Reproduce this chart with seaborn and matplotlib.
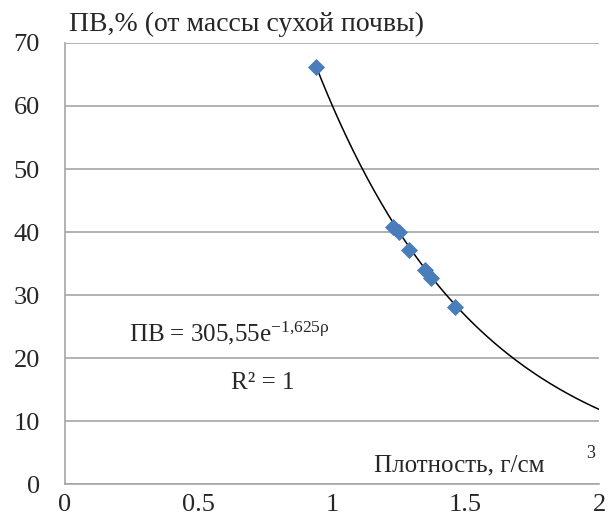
import matplotlib
matplotlib.use('Agg')
import matplotlib.pyplot as plt
import numpy as np
import pandas as pd
import seaborn as sns

# Data
density = [0.94, 1.23, 1.25, 1.29, 1.35, 1.37, 1.46]
pv = [66.2, 40.8, 40.0, 37.1, 34.0, 32.7, 28.1]

# trend line coefficients as printed on the chart
coef_a = 305.55
coef_b = -1.625
trend_start, trend_end = 0.94, 2.0

df = pd.DataFrame({'density': density, 'pv': pv})
trend_x = np.linspace(trend_start, trend_end, 200)
trend = pd.DataFrame({'x': trend_x, 'y': coef_a * np.exp(coef_b * trend_x)})

sns.set_style('white')
plt.rcParams['font.family'] = ['Liberation Serif', 'DejaVu Serif']
plt.rcParams['mathtext.fontset'] = 'custom'
plt.rcParams['mathtext.rm'] = 'Liberation Serif'
plt.rcParams['mathtext.it'] = 'Liberation Serif'

fig = plt.figure(figsize=(6.1, 5.18), dpi=100)
ax = fig.add_axes([0.1066, 0.0656, 0.8754, 0.8514])

sns.lineplot(data=trend, x='x', y='y', ax=ax, color='black', linewidth=1.1, zorder=2)
sns.scatterplot(data=df, x='density', y='pv', ax=ax, marker='D', s=65,
                color='#4a7ebb', edgecolor='#4a7ebb', zorder=3)

ax.set_xlim(0, 2)
ax.set_ylim(0, 70)
ax.set_xticks([0, 0.5, 1, 1.5, 2])
ax.set_xticklabels(['0', '0.5', '1', '1.5', '2'])
ax.set_yticks(range(0, 71, 10))
ax.set_xlabel('')
ax.set_ylabel('')

ax.grid(axis='y', color='#a6a6a6', linewidth=1.2)
ax.set_axisbelow(True)
for s in ['top', 'right']:
    ax.spines[s].set_visible(False)
for s in ['left', 'bottom']:
    ax.spines[s].set_color('#a6a6a6')
    ax.spines[s].set_linewidth(1.2)
ax.tick_params(axis='y', length=10, width=1.2, color='#a6a6a6', labelsize=19, pad=8)
ax.tick_params(axis='x', length=6, width=1.2, color='#a6a6a6', labelsize=19, pad=1)

fig.text(0.113, 0.952, 'ПВ,% (от массы сухой почвы)', fontsize=20, va='center')
ax.text(0.12, 0.342, 'ПВ = 305,55e$^{\\mathregular{-1{,}625ρ}}$', transform=ax.transAxes,
        fontsize=18, va='center')
ax.text(0.31, 0.229, 'R² = 1', transform=ax.transAxes, fontsize=18, va='center')
ax.text(0.578, 0.043, 'Плотность, г/см', transform=ax.transAxes, fontsize=18, va='center')
ax.text(0.975, 0.07, '3', transform=ax.transAxes, fontsize=13, va='center')

fig.savefig('out.png', dpi=100)
